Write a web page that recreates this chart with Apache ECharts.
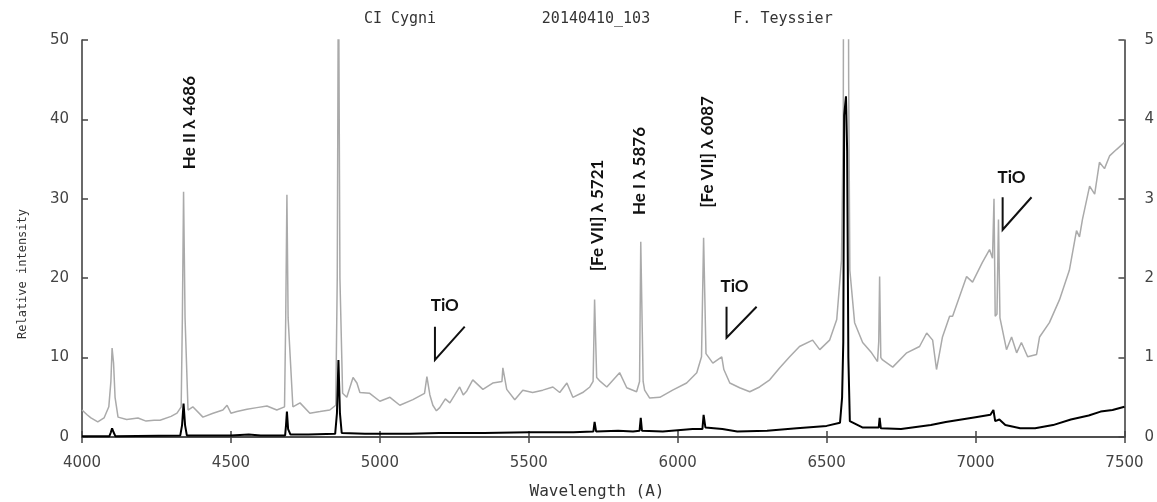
<!DOCTYPE html>
<html>
<head>
<meta charset="utf-8">
<script src="https://cdn.jsdelivr.net/npm/echarts@6/dist/echarts.min.js"></script>
<style>
  html, body { margin: 0; padding: 0; background: #fff; }
  #main { width: 1157px; height: 502px; }
</style>
</head>
<body>
<div id="main"></div>
<script>
// gray spectrum (left axis, relative intensity)
const grayWave = [
  4000, 4017, 4030, 4053, 4074, 4090, 4097, 4101, 4106, 4111,
  4121, 4150, 4188, 4215, 4242, 4262, 4299, 4319, 4333, 4337,
  4341, 4346, 4356, 4372, 4406, 4440, 4473, 4487, 4500, 4520,
  4554, 4587, 4621, 4654, 4680, 4684, 4688, 4692, 4708, 4732,
  4765, 4799, 4832, 4852, 4857, 4861, 4866, 4875, 4889, 4910,
  4923, 4933, 4966, 5000, 5034, 5067, 5111, 5150, 5158, 5168,
  5178, 5190, 5201, 5220, 5235, 5250, 5268, 5280, 5292, 5312,
  5346, 5379, 5410, 5413, 5426, 5453, 5480, 5513, 5547, 5581,
  5604, 5628, 5648, 5681, 5705, 5716, 5721, 5728, 5740, 5762,
  5805, 5829, 5862, 5872, 5876, 5884, 5889, 5906, 5940, 5983,
  6030, 6064, 6080, 6087, 6095, 6118, 6148, 6155, 6175, 6208,
  6242, 6275, 6309, 6342, 6376, 6409, 6453, 6477, 6510, 6534,
  6550, 6556, 6559, 6570, 6574, 6578, 6594, 6621, 6651, 6671,
  6675, 6678, 6682, 6688, 6722, 6769, 6812, 6836, 6856, 6869,
  6889, 6913, 6923, 6970, 6990, 7023, 7047, 7057, 7062, 7066,
  7072, 7077, 7082, 7087, 7104, 7121, 7138, 7154, 7175, 7205,
  7215, 7248, 7282, 7315, 7339, 7349, 7359, 7383, 7400, 7416,
  7433, 7450, 7473, 7500
];
const grayFlux = [
  3.4, 2.8, 2.4, 1.9, 2.4, 3.8, 7.0, 11.2, 9.3, 5.0,
  2.5, 2.2, 2.4, 2.0, 2.1, 2.1, 2.6, 3.0, 3.8, 15.0,
  30.9, 15.0, 3.4, 3.8, 2.5, 3.0, 3.4, 4.0, 3.0, 3.2,
  3.5, 3.7, 3.9, 3.4, 3.8, 15.0, 30.5, 15.0, 3.8, 4.3,
  3.0, 3.2, 3.4, 4.0, 20.0, 62.0, 20.0, 5.5, 5.0, 7.5,
  6.8, 5.6, 5.5, 4.5, 5.0, 4.0, 4.7, 5.5, 7.6, 5.3,
  4.0, 3.3, 3.7, 4.8, 4.3, 5.2, 6.3, 5.3, 5.8, 7.2,
  6.0, 6.8, 7.0, 8.7, 6.0, 4.7, 5.9, 5.6, 5.9, 6.3,
  5.6, 6.8, 5.0, 5.6, 6.3, 7.0, 17.3, 7.5, 7.0, 6.3,
  8.1, 6.2, 5.7, 7.0, 24.6, 7.0, 5.9, 4.9, 5.0, 5.9,
  6.8, 8.1, 10.1, 25.1, 10.5, 9.3, 10.1, 8.5, 6.8, 6.2,
  5.7, 6.3, 7.2, 8.7, 10.1, 11.4, 12.2, 11.0, 12.2, 14.8,
  22.3, 40.0, 120, 120, 45.0, 21.0, 14.4, 11.9, 10.6, 9.5,
  12.0, 20.2, 10.0, 9.7, 8.8, 10.6, 11.4, 13.1, 12.2, 8.5,
  12.6, 15.2, 15.2, 20.2, 19.5, 22.0, 23.6, 22.5, 30.0, 15.2,
  15.5, 27.4, 15.0, 14.8, 11.0, 12.6, 10.6, 11.9, 10.1, 10.4,
  12.6, 14.4, 17.3, 21.0, 26.0, 25.2, 27.4, 31.6, 30.6, 34.6,
  33.8, 35.4, 36.2, 37.1
];

// black spectrum (right axis)
const blackWave = [
  4000, 4092, 4097, 4101, 4106, 4112, 4330, 4336, 4341, 4346,
  4352, 4500, 4560, 4600, 4682, 4685, 4688, 4692, 4700, 4760,
  4850, 4856, 4861, 4866, 4872, 4950, 5100, 5200, 5350, 5500,
  5650, 5717, 5721, 5726, 5800, 5850, 5872, 5876, 5880, 5950,
  6050, 6083, 6087, 6093, 6150, 6200, 6300, 6400, 6500, 6545,
  6552, 6556, 6559, 6565, 6569, 6573, 6578, 6620, 6675, 6678,
  6682, 6750, 6850, 6900, 7000, 7050, 7060, 7066, 7080, 7100,
  7150, 7200, 7260, 7320, 7380, 7420, 7460, 7500
];
const blackFlux = [
  0.01, 0.01, 0.06, 0.11, 0.06, 0.01, 0.02, 0.15, 0.42, 0.15,
  0.02, 0.02, 0.03, 0.02, 0.02, 0.15, 0.32, 0.10, 0.03, 0.03,
  0.04, 0.30, 0.97, 0.30, 0.05, 0.04, 0.04, 0.05, 0.05, 0.06,
  0.06, 0.07, 0.19, 0.07, 0.08, 0.07, 0.08, 0.24, 0.08, 0.07,
  0.10, 0.10, 0.28, 0.12, 0.10, 0.07, 0.08, 0.11, 0.14, 0.18,
  0.50, 1.20, 4.05, 4.29, 3.60, 1.00, 0.20, 0.12, 0.12, 0.24,
  0.11, 0.10, 0.15, 0.19, 0.25, 0.28, 0.34, 0.20, 0.22, 0.15,
  0.11, 0.11, 0.15, 0.22, 0.27, 0.32, 0.34, 0.38
];

// line identifications: label centre in data units
const lineLabels = [
  { text: 'He II \u03bb 4686', wave: 4361, flux: 39.6 },
  { text: '[Fe VII] \u03bb 5721', wave: 5732, flux: 27.9 },
  { text: 'He I \u03bb 5876', wave: 5873, flux: 33.5 },
  { text: '[Fe VII] \u03bb 6087', wave: 6101, flux: 35.9 }
];

// TiO band marks: label, then a tick (vertical + slanted stroke)
const tioMarks = [
  { label: [5218, 16.5], wave0: 5185, wave1: 5285, top: 13.9, bottom: 9.7 },
  { label: [6191, 18.9], wave0: 6164, wave1: 6265, top: 16.4, bottom: 12.5 },
  { label: [7121, 32.7], wave0: 7091, wave1: 7188, top: 30.2, bottom: 26.1 }
];

const zip = (xs, ys) => xs.map((x, i) => [x, ys[i]]);

const chart = echarts.init(document.getElementById('main'));

const frame = { show: true, lineStyle: { color: '#444', width: 1.6 } };
const tick = { inside: true, length: 6, lineStyle: { color: '#444', width: 1.5 } };
const tickFont = { color: '#444', fontFamily: 'DejaVu Sans', fontSize: 15, formatter: v => String(v) };
const monoFont = 'DejaVu Sans Mono';

chart.setOption({
  animation: false,
  backgroundColor: '#fff',
  grid: { left: 82, right: 32, top: 40, bottom: 65 },
  xAxis: [
    {
      type: 'value', min: 4000, max: 7500, interval: 500, position: 'bottom',
      axisLine: frame, axisTick: tick,
      axisLabel: Object.assign({ margin: 19 }, tickFont),
      splitLine: { show: false }
    },
    {
      type: 'value', min: 4000, max: 7500, interval: 500, position: 'top',
      axisLine: frame, axisTick: tick,
      axisLabel: { show: false },
      splitLine: { show: false }
    }
  ],
  yAxis: [
    {
      type: 'value', min: 0, max: 50, interval: 10, position: 'left',
      axisLine: frame, axisTick: tick,
      axisLabel: Object.assign({ margin: 13 }, tickFont),
      splitLine: { show: false }
    },
    {
      type: 'value', min: 0, max: 5, interval: 1, position: 'right',
      axisLine: frame, axisTick: tick,
      axisLabel: Object.assign({ margin: 20 }, tickFont),
      splitLine: { show: false }
    }
  ],
  series: [
    {
      name: 'gray', type: 'line', xAxisIndex: 0, yAxisIndex: 0,
      data: zip(grayWave, grayFlux),
      showSymbol: false, clip: true,
      lineStyle: { color: '#aaaaaa', width: 1.5 },
      z: 2
    },
    {
      name: 'black', type: 'line', xAxisIndex: 0, yAxisIndex: 1,
      data: zip(blackWave, blackFlux),
      showSymbol: false, clip: true,
      lineStyle: { color: '#000', width: 2 },
      z: 3
    }
  ]
});

// annotations placed via the chart's own coordinate conversion
const px = (w, f) => chart.convertToPixel({ xAxisIndex: 0, yAxisIndex: 0 }, [w, f]);
const graphics = [];

const plainText = (text, x, y, font, rotation) => ({
  type: 'text', x: x, y: y, rotation: rotation || 0,
  style: { text: text, font: font, fill: '#333', align: 'center', verticalAlign: 'middle' }
});

graphics.push(
  plainText('CI Cygni', 400, 19, '15px ' + monoFont),
  plainText('20140410_103', 596, 19, '15px ' + monoFont),
  plainText('F. Teyssier', 783, 19, '15px ' + monoFont),
  plainText('Wavelength (A)', 597, 492, '16px ' + monoFont),
  plainText('Relative intensity', 23, 274, '12px ' + monoFont, Math.PI / 2)
);

lineLabels.forEach(l => {
  const p = px(l.wave, l.flux);
  graphics.push({
    type: 'text', x: p[0], y: p[1], rotation: Math.PI / 2,
    style: { text: l.text, font: 'bold 17px Lato', fill: '#111', align: 'center', verticalAlign: 'middle' }
  });
});

tioMarks.forEach(m => {
  const lp = px(m.label[0], m.label[1]);
  const a = px(m.wave0, m.top);
  const b = px(m.wave0, m.bottom);
  const c = px(m.wave1, m.top);
  graphics.push({
    type: 'text', x: lp[0], y: lp[1],
    style: { text: 'TiO', font: 'bold 17px Lato', fill: '#111', align: 'center', verticalAlign: 'middle' }
  });
  graphics.push({
    type: 'polyline', shape: { points: [a, b, c] },
    style: { stroke: '#111', lineWidth: 2, fill: null }
  });
});

chart.setOption({ graphic: graphics });
</script>
</body>
</html>
